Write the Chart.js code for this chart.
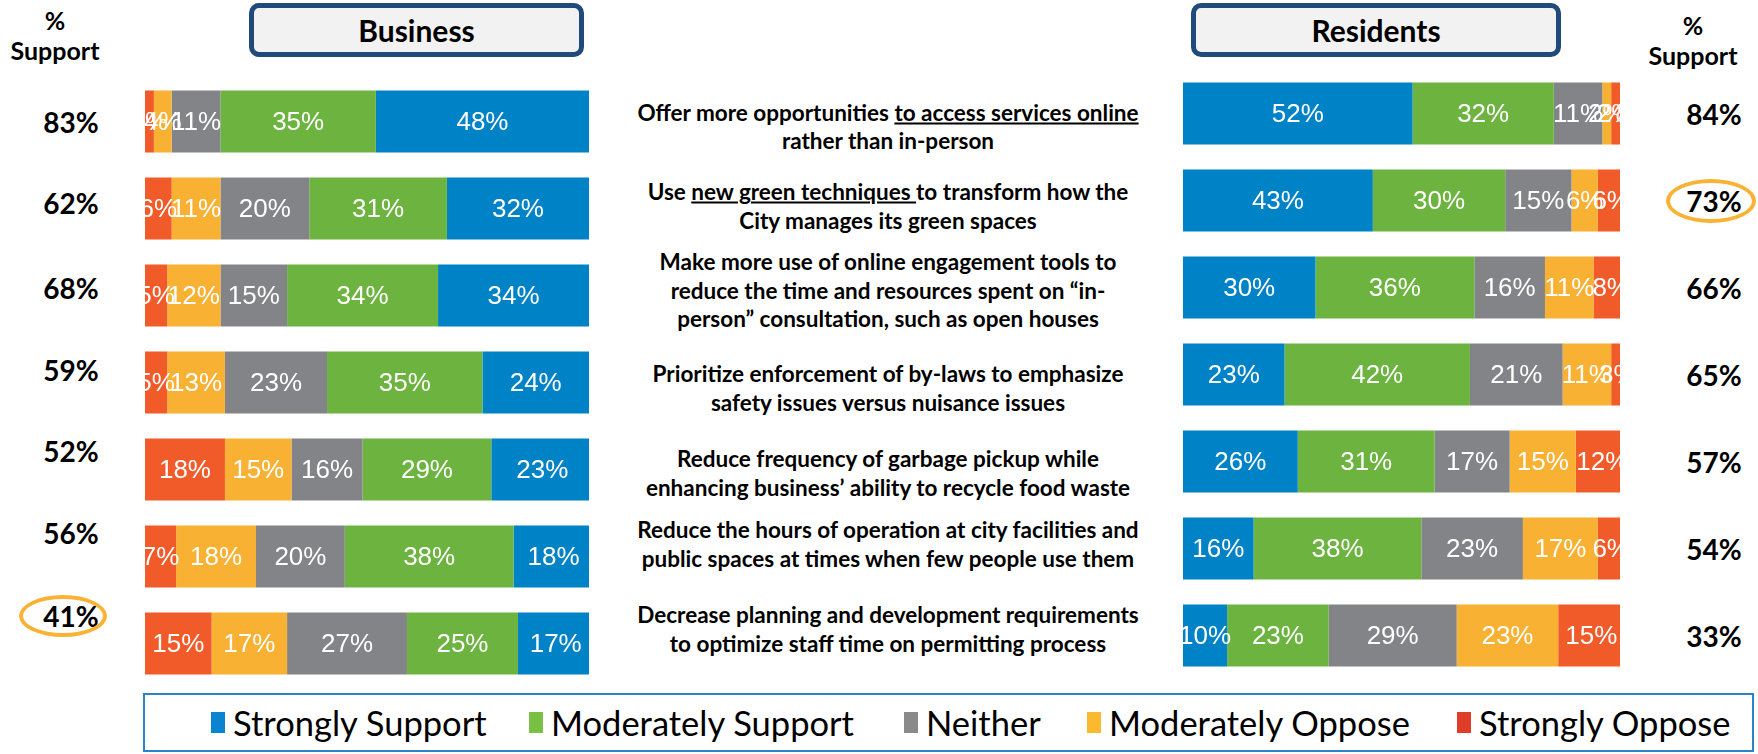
<!DOCTYPE html>
<html><head><meta charset="utf-8">
<script src="https://cdn.jsdelivr.net/npm/chart.js@4.4.1/dist/chart.umd.min.js"></script>
<style>
html,body{margin:0;padding:0;background:#fff;}
body{width:1758px;height:754px;position:relative;overflow:hidden;font-family:Lato,"Open Sans",sans-serif;color:#000;}
.abs{position:absolute;}
#bizWrap{left:145px;top:78px;width:444px;height:609px;}
#resWrap{left:1183px;top:70px;width:437px;height:609px;}
.hdrBox{position:absolute;box-sizing:border-box;border:5px solid #214A7C;border-radius:10px;background:#F2F2F2;
  font-weight:700;font-size:30px;display:flex;align-items:center;justify-content:center;}
.pctHdr{position:absolute;font-weight:700;font-size:25px;text-align:center;line-height:30px;transform:translateX(-50%);}
.pct{position:absolute;font-weight:700;font-size:28px;transform:translate(-50%,-50%);white-space:nowrap;}
.q{position:absolute;left:888px;font-weight:700;font-size:22.5px;line-height:28.5px;text-align:center;white-space:nowrap;transform:translate(-50%,-50%);}
.ring{position:absolute;box-sizing:border-box;border:4px solid #F9B233;border-radius:50%;}
#legend{position:absolute;left:143px;top:693px;width:1611px;height:59px;box-sizing:border-box;border:2px solid #2A84C6;}
.li{position:absolute;top:0;height:55px;display:flex;align-items:center;font-size:34.5px;white-space:nowrap;}
.li span.sw{display:inline-block;width:14px;height:21px;margin-right:8px;}
</style></head>
<body>
<div class="pctHdr" style="left:55px;top:5px;">%<br>Support</div>
<div class="pctHdr" style="left:1693px;top:10px;">%<br>Support</div>
<div class="hdrBox" style="left:249px;top:3px;width:335px;height:54px;">Business</div>
<div class="hdrBox" style="left:1191px;top:3px;width:370px;height:54px;">Residents</div>
<div id="bizWrap" class="abs"><canvas id="biz" width="444" height="609"></canvas></div>
<div id="resWrap" class="abs"><canvas id="res" width="437" height="609"></canvas></div>
<div id="texts"></div>
<div id="legend"></div>
<script>
// ---- data ----
const questions = [
  ['Offer more opportunities <u>to access services online</u>', 'rather than in-person'],
  ['Use <u>new green techniques </u>to transform how the', 'City manages its green spaces'],
  ['Make more use of online engagement tools to', 'reduce the time and resources spent on \u201cin-', 'person\u201d consultation, such as open houses'],
  ['Prioritize enforcement of by-laws to emphasize', 'safety issues versus nuisance issues'],
  ['Reduce frequency of garbage pickup while', 'enhancing business\u2019 ability to recycle food waste'],
  ['Reduce the hours of operation at city facilities and', 'public spaces at times when few people use them'],
  ['Decrease planning and development requirements', 'to optimize staff time on permitting process']
];
const seriesNames = ['Strongly Support','Moderately Support','Neither','Moderately Oppose','Strongly Oppose'];
const bizStronglySupport   = [48,32,34,24,23,18,17];
const bizModeratelySupport = [35,31,34,35,29,38,25];
const bizNeither           = [11,20,15,23,16,20,27];
const bizModeratelyOppose  = [4,11,12,13,15,18,17];
const bizStronglyOppose    = [2,6,5,5,18,7,15];
const resStronglySupport   = [52,43,30,23,26,16,10];
const resModeratelySupport = [32,30,36,42,31,38,23];
const resNeither           = [11,15,16,21,17,23,29];
const resModeratelyOppose  = [2,6,11,11,15,17,23];
const resStronglyOppose    = [2,6,8,3,12,6,15];
const bizSupport = [83,62,68,59,52,56,41];
const resSupport = [84,73,66,65,57,54,33];
const highlightBiz = 6;   // index of circled business value
const highlightRes = 1;   // index of circled residents value

// ---- styles ----
const barColors = ['#0082C6','#6CB33F','#838487','#F8B133','#F15A29'];
const legendColors = ['#0A84D0','#77C043','#8A8A8D','#FBB930','#E03C2A'];
const bizPctY = [122,203,288,370,451,533,616];
const resPctY = [114,201,288,375,462,549,636];
const qY = [126.5,206,291,388,473,544,629];
const legendX = [211,529,904,1087,1457];

const segLabels = {
  id:'segLabels',
  afterDatasetsDraw(chart){
    const ctx = chart.ctx, a = chart.chartArea;
    ctx.save();
    ctx.beginPath(); ctx.rect(a.left,a.top,a.right-a.left,a.bottom-a.top); ctx.clip();
    ctx.font = '26px "Liberation Sans", Arial, sans-serif';
    ctx.fillStyle = '#fff'; ctx.textAlign='center'; ctx.textBaseline='middle';
    chart.data.datasets.forEach((ds,i)=>{
      chart.getDatasetMeta(i).data.forEach((bar,j)=>{
        const p = bar.getProps(['x','base','y'], true);
        ctx.fillText(ds.data[j]+'%', (p.x+p.base)/2, p.y+1);
      });
    });
    ctx.restore();
  }
};

function mkDatasets(names, arrays, colors){
  return names.map((n,i)=>({label:n, data:arrays[i], backgroundColor:colors[i], borderWidth:0,
    barPercentage:0.713, categoryPercentage:1}));
}
function mkChart(id, datasets, max){
  return new Chart(document.getElementById(id), {
    type:'bar',
    data:{labels:questions.map(q=>q.join(' ').replace(/<[^>]+>/g,'')), datasets},
    options:{
      indexAxis:'y', responsive:false, animation:false, devicePixelRatio:1,
      layout:{padding:0},
      scales:{
        x:{stacked:true,min:0,max:max,display:false},
        y:{stacked:true,display:false}
      },
      plugins:{legend:{display:false},tooltip:{enabled:false}}
    },
    plugins:[segLabels]
  });
}
// Business: oppose on the left -> support on the right
mkChart('biz', mkDatasets(
  [seriesNames[4],seriesNames[3],seriesNames[2],seriesNames[1],seriesNames[0]],
  [bizStronglyOppose,bizModeratelyOppose,bizNeither,bizModeratelySupport,bizStronglySupport],
  [barColors[4],barColors[3],barColors[2],barColors[1],barColors[0]]), 100);
// Residents: support on the left -> oppose on the right
mkChart('res', mkDatasets(seriesNames,
  [resStronglySupport,resModeratelySupport,resNeither,resModeratelyOppose,resStronglyOppose],
  barColors), 99);

// ---- texts ----
const T = document.getElementById('texts');
questions.forEach((lines,i)=>{
  const d=document.createElement('div'); d.className='q'; d.style.top=qY[i]+'px';
  d.innerHTML=lines.join('<br>'); T.appendChild(d);
});
bizSupport.forEach((v,i)=>{
  const d=document.createElement('div'); d.className='pct'; d.style.left='71px'; d.style.top=bizPctY[i]+'px';
  d.textContent=v+'%'; T.appendChild(d);
});
resSupport.forEach((v,i)=>{
  const d=document.createElement('div'); d.className='pct'; d.style.left='1714px'; d.style.top=resPctY[i]+'px';
  d.textContent=v+'%'; T.appendChild(d);
});
function ring(cx,cy,w,h){
  const r=document.createElement('div'); r.className='ring';
  r.style.left=(cx-w/2)+'px'; r.style.top=(cy-h/2)+'px'; r.style.width=w+'px'; r.style.height=h+'px';
  T.appendChild(r);
}
ring(63, bizPctY[highlightBiz], 88, 42);
ring(1711, resPctY[highlightRes], 90, 44);

// ---- legend ----
const L=document.getElementById('legend');
seriesNames.forEach((n,i)=>{
  const d=document.createElement('div'); d.className='li'; d.style.left=(legendX[i]-145)+'px';
  d.innerHTML='<span class="sw" style="background:'+legendColors[i]+'"></span>'+n;
  L.appendChild(d);
});
</script>
</body></html>
